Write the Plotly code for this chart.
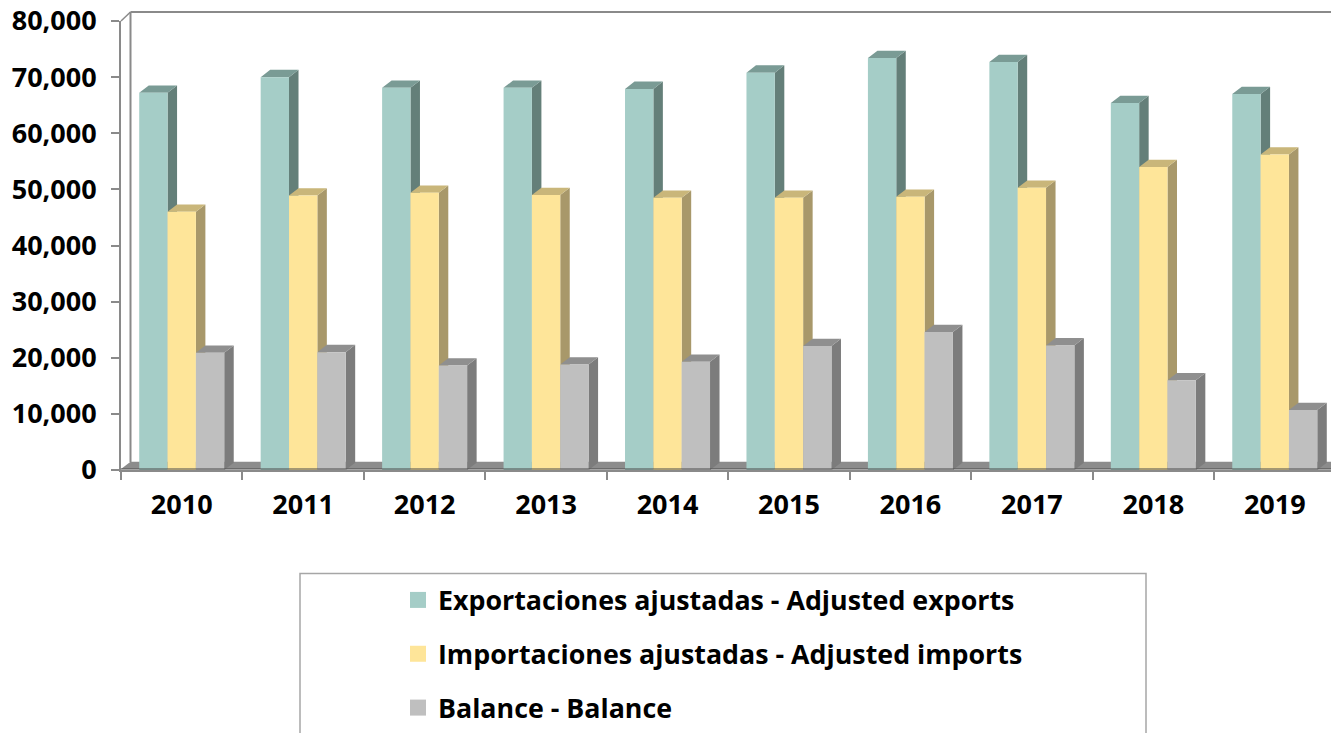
import plotly.graph_objects as go

years = [2010, 2011, 2012, 2013, 2014, 2015, 2016, 2017, 2018, 2019]
exports = [67200, 70000, 68100, 68100, 67900, 70800, 73400, 72700, 65400, 67000]
imports = [46000, 48900, 49400, 49000, 48500, 48500, 48700, 50300, 54000, 56200]
balance = [20900, 21000, 18600, 18800, 19300, 22100, 24600, 22200, 16000, 10700]
names = ["Exportaciones ajustadas - Adjusted exports",
         "Importaciones ajustadas - Adjusted imports",
         "Balance - Balance"]
front = ["#a5cdc7", "#fee599", "#bfbfbf"]
side = ["#647f79", "#a8986a", "#7c7c7c"]
top = ["#7a9b95", "#c9b67a", "#8f8f8f"]

W, H = 1331, 733
L, R, T, B = 121, 0, 21, 263
FONT = "Open Sans"
GRAY = "#8a8a8a"
cat_w = 121.45
dx = 9.5 / cat_w
dy = 1300
bar_w = 0.2333
x_end = 2009.5 + (W - L) / cat_w


def px(x):
    return (x - L) / (W - L - R)


def py(y):
    return 1 - (y - T) / (H - T - B)


fig = go.Figure()
series = [exports, imports, balance]
for k, vals in enumerate(series):
    sx, sy, tx, ty = [], [], [], []
    for yr, v in zip(years, vals):
        l = yr - 1.5 * bar_w + k * bar_w
        r = l + bar_w
        sx += [r, r + dx, r + dx, r, r, None]
        sy += [0, dy, v + dy, v, 0, None]
        tx += [l, l + dx, r + dx, r, l, None]
        ty += [v, v + dy, v + dy, v, v, None]
    for xs, ys, col in ((sx, sy, side[k]), (tx, ty, top[k])):
        fig.add_trace(go.Scatter(x=xs, y=ys, mode="lines", fill="toself", fillcolor=col,
                                 line=dict(width=0), showlegend=False, hoverinfo="skip"))

for k, vals in enumerate(series):
    fig.add_trace(go.Bar(x=years, y=vals, marker=dict(color=front[k], line=dict(width=0)),
                         xaxis="x2", yaxis="y2", name=names[k], showlegend=False, offsetgroup=str(k)))
for k, vals in enumerate(series):
    fig.add_trace(go.Scatter(x=years, y=[None] * len(years), mode="markers", xaxis="x2", yaxis="y2",
                             marker=dict(symbol="square", size=16, color=front[k]),
                             name=names[k], legendgroup=str(k), showlegend=True, hoverinfo="skip"))

shapes = [
    dict(type="path", xref="paper", yref="paper", layer="below", line=dict(width=0), fillcolor="#8c8c8c",
         path=f"M{px(121)},{py(469)} L{px(130.5)},{py(461.7)} L1,{py(461.7)} L1,{py(469)} Z"),
    dict(type="line", xref="paper", yref="paper", layer="below", line=dict(color=GRAY, width=2),
         x0=px(130.5), x1=px(130.5), y0=py(462), y1=py(12)),
    dict(type="line", xref="paper", yref="paper", layer="below", line=dict(color=GRAY, width=2),
         x0=px(130.5), x1=1, y0=py(12), y1=py(12)),
    dict(type="line", xref="paper", yref="paper", layer="below", line=dict(color=GRAY, width=1.5),
         x0=px(121), x1=px(130.5), y0=py(21), y1=py(12)),
    dict(type="line", xref="paper", yref="paper", layer="above", line=dict(color="#4a4a4a", width=1),
         x0=px(121), x1=1, y0=py(469), y1=py(469)),
    dict(type="path", xref="paper", yref="paper", layer="below", line=dict(color="#a6a6a6", width=1.5),
         fillcolor="rgba(0,0,0,0)",
         path=f"M{px(300)},{py(745)} L{px(300)},{py(573.5)} L{px(1146)},{py(573.5)} L{px(1146)},{py(745)}"),
]

axis_font = dict(family=FONT, size=27, color="#000000", weight="bold")
fig.update_layout(
    width=W, height=H, autosize=False,
    margin=dict(l=L, r=R, t=T, b=B, pad=0, autoexpand=False),
    paper_bgcolor="#ffffff", plot_bgcolor="rgba(0,0,0,0)",
    barmode="group", bargap=0.3, bargroupgap=0,
    shapes=shapes,
    xaxis=dict(range=[2009.5, x_end], tickmode="array", tickvals=years, ticktext=[str(y) for y in years],
               ticks="", showgrid=False, zeroline=False, showline=True, linecolor=GRAY, linewidth=2,
               tickfont=axis_font, ticklabelstandoff=10,
               minor=dict(tickmode="array", tickvals=[y - 0.5 for y in years] + [2019.5],
                          ticks="outside", ticklen=8, tickcolor=GRAY, tickwidth=2, showgrid=False)),
    yaxis=dict(range=[0, 80000], tick0=0, dtick=10000, tickformat=",d", ticks="outside", ticklen=8,
               tickcolor=GRAY, tickwidth=2, showgrid=False, zeroline=False, showline=True,
               linecolor=GRAY, linewidth=2, tickfont=axis_font, ticklabelstandoff=9),
    xaxis2=dict(range=[2009.5, x_end], overlaying="x", visible=False),
    yaxis2=dict(range=[0, 80000], overlaying="y", visible=False),
    legend=dict(x=px(398), xanchor="left", y=py(576), yanchor="top", bgcolor="rgba(0,0,0,0)", borderwidth=0,
                font=dict(family=FONT, size=26.8, color="#000000", weight="bold"),
                traceorder="grouped", tracegroupgap=16, itemclick=False, itemdoubleclick=False),
)

fig.write_html("out.html", config={"displayModeBar": False},
               post_script="document.body.style.margin='0';document.body.style.overflow='hidden';")
